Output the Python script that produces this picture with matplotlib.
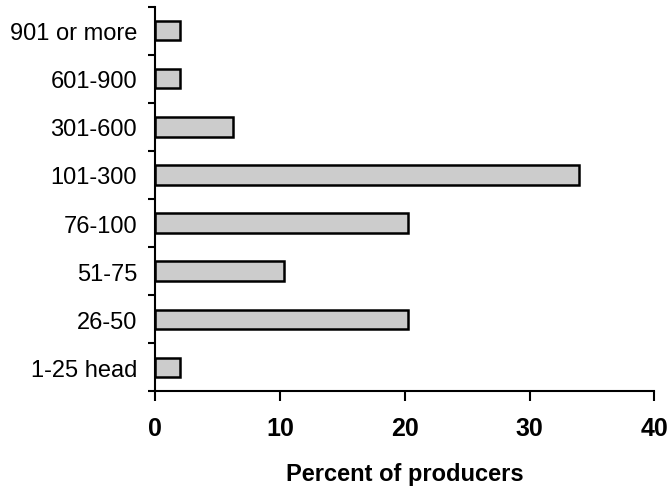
import matplotlib
matplotlib.use("Agg")
import matplotlib.pyplot as plt
import numpy as np

plt.rcParams['font.family'] = ['Liberation Sans', 'DejaVu Sans']

# herd size categories, bottom to top
categories = ['1-25 head', '26-50', '51-75', '76-100', '101-300',
              '301-600', '601-900', '901 or more']
percent = [2.0, 20.3, 10.3, 20.3, 34.0, 6.2, 2.0, 2.0]
xticks = [0, 10, 20, 30, 40]

fig = plt.figure(figsize=(6.69, 4.89), dpi=100)
ax = fig.add_axes([0.232, 0.198, 0.746, 0.786])

pos = np.arange(len(categories))
ax.barh(pos, percent, height=0.4, color='#cccccc', edgecolor='black', linewidth=1.8)

ax.set_xlim(0, 40)
ax.set_ylim(-0.5, len(categories) - 0.5)

# y ticks sit between categories, labels centred on bars
ax.set_yticks(np.arange(len(categories) + 1) - 0.5)
ax.set_yticklabels([])
ax.set_yticks(pos, minor=True)
ax.set_yticklabels(categories, minor=True, fontsize=17)
ax.tick_params(axis='y', which='major', length=5, width=1.5, direction='out')
ax.tick_params(axis='y', which='minor', length=0, pad=13)

ax.set_xticks(xticks)
ax.set_xticklabels([str(t) for t in xticks], fontsize=18, fontweight='bold')
ax.tick_params(axis='x', length=7, width=1.5, pad=11)

ax.set_xlabel('Percent of producers', fontsize=17, fontweight='bold', labelpad=16)

for s in ['top', 'right']:
    ax.spines[s].set_visible(False)
for s in ['left', 'bottom']:
    ax.spines[s].set_linewidth(1.5)

fig.savefig('out.png', dpi=100)
